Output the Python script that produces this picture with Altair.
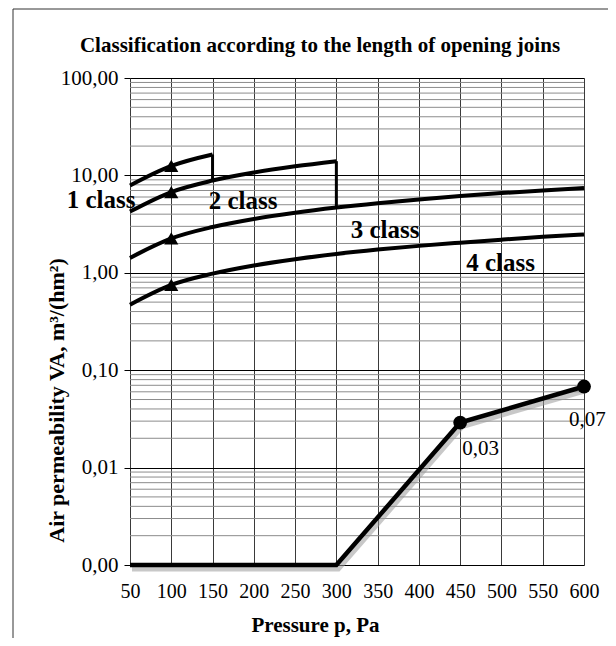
import altair as alt
import pandas as pd

# ---- data ----
p_c1 = [50, 100, 150]
v_c1 = [7.87, 12.5, 16.4]
p_c2 = [50, 100, 150, 200, 250, 300]
v_c2 = [4.25, 6.75, 8.85, 10.7, 12.4, 14.0]
p_c34 = [50, 100, 150, 200, 250, 300, 350, 400, 450, 500, 550, 600]
v_c3 = [1.42, 2.25, 2.95, 3.57, 4.14, 4.68, 5.19, 5.67, 6.13, 6.58, 7.01, 7.43]
v_c4 = [0.47, 0.75, 0.98, 1.19, 1.38, 1.56, 1.73, 1.89, 2.04, 2.19, 2.34, 2.48]

tri_p = [100, 100, 100, 100]
tri_v = [12.5, 6.75, 2.25, 0.75]

step_p = [150, 300]
step_lo = [8.85, 4.68]
step_hi = [16.4, 14.0]

meas_p = [50, 100, 150, 200, 250, 300, 450, 600]
meas_v = [0.001, 0.001, 0.001, 0.001, 0.001, 0.001, 0.029, 0.068]
pt_p = [450, 600]
pt_v = [0.029, 0.068]
pt_lbl = ["0,03", "0,07"]

cls_text = ["1 class", "2 class", "3 class", "4 class"]
cls_p = [15, 187, 359, 499]
cls_v = [5.56, 5.43, 2.75, 1.26]

x_ticks = [50, 100, 150, 200, 250, 300, 350, 400, 450, 500, 550, 600]
y_ticks = [0.001, 0.01, 0.1, 1, 10, 100]
minor_grid = [m * d for d in [0.001, 0.01, 0.1, 1, 10] for m in range(2, 10)]

TITLE = "Classification according to the length of opening joins"
FONT = "Liberation Serif"

rows = []
for name, ps, vs in [("c1", p_c1, v_c1), ("c2", p_c2, v_c2), ("c3", p_c34, v_c3), ("c4", p_c34, v_c4)]:
    for p, v in zip(ps, vs):
        rows.append({"series": name, "p": p, "v": v})
df_cls = pd.DataFrame(rows)
df_tri = pd.DataFrame({"p": tri_p, "v": tri_v})
df_step = pd.DataFrame({"p": step_p, "lo": step_lo, "hi": step_hi})
df_meas = pd.DataFrame({"p": meas_p, "v": meas_v})
df_pt = pd.DataFrame({"p": pt_p, "v": pt_v, "lbl": pt_lbl})
df_cls_lbl = pd.DataFrame({"t": cls_text, "p": cls_p, "v": cls_v})
df_minor = pd.DataFrame({"g": minor_grid})
df_one = pd.DataFrame({"t": [TITLE]})

xs = alt.Scale(domain=[50, 600], nice=False, zero=False)
ys = alt.Scale(type="log", domain=[0.001, 100], nice=False)

X = alt.X("p:Q", scale=xs, axis=alt.Axis(
    values=x_ticks, grid=True, gridColor="#3a3a3a", gridWidth=1, ticks=False,
    labelPadding=16, labelFontSize=20, labelFont=FONT, labelColor="black",
    labelFlush=False, labelOverlap=False, domain=False,
    title="Pressure p, Pa", titleFont=FONT, titleFontSize=21, titleFontWeight="bold",
    titleColor="black", titleX=185, titleY=60, titleBaseline="middle"))
Y = alt.Y("v:Q", scale=ys, axis=alt.Axis(
    values=y_ticks, grid=True, gridColor="black", gridWidth=1,
    ticks=True, tickSize=6, tickColor="black", tickWidth=1,
    labelExpr="replace(format(datum.value, '.2f'), '.', ',')",
    labelPadding=6, labelFontSize=21, labelFont=FONT, labelColor="black",
    labelOverlap=False, labelFlush=False, domain=False,
    title="Air permeability VA, m³/(hm²)", titleFont=FONT, titleFontSize=22,
    titleFontWeight="bold", titleColor="black", titleX=-74, titleY=322,
    titleBaseline="middle"))

minor = alt.Chart(df_minor).mark_rule(color="#8c8c8c", strokeWidth=1).encode(
    y=alt.Y("g:Q", scale=ys))

base_axes = alt.Chart(df_cls).mark_line(opacity=0).encode(x=X, y=Y)

lines = alt.Chart(df_cls).mark_line(color="black", strokeWidth=4, interpolate="monotone").encode(
    x=alt.X("p:Q", scale=xs), y=alt.Y("v:Q", scale=ys), detail="series:N")

steps = alt.Chart(df_step).mark_rule(color="black", strokeWidth=3).encode(
    x=alt.X("p:Q", scale=xs), y=alt.Y("lo:Q", scale=ys), y2="hi:Q")

tris = alt.Chart(df_tri).mark_point(shape="triangle-up", filled=True, color="black",
                                    size=200, opacity=1).encode(
    x=alt.X("p:Q", scale=xs), y=alt.Y("v:Q", scale=ys))

meas_shadow = alt.Chart(df_meas).mark_line(color="#9a9a9a", strokeWidth=5, opacity=0.55,
                                           xOffset=2, yOffset=4).encode(
    x=alt.X("p:Q", scale=xs), y=alt.Y("v:Q", scale=ys))
meas = alt.Chart(df_meas).mark_line(color="black", strokeWidth=4.5).encode(
    x=alt.X("p:Q", scale=xs), y=alt.Y("v:Q", scale=ys))
pts = alt.Chart(df_pt).mark_circle(color="black", size=190, opacity=1).encode(
    x=alt.X("p:Q", scale=xs), y=alt.Y("v:Q", scale=ys))
pt_lbl_lo = alt.Chart(df_pt[df_pt.lbl == "0,03"]).mark_text(
    font=FONT, fontSize=21, color="black", align="left", baseline="middle", dx=2, dy=26).encode(
    x=alt.X("p:Q", scale=xs), y=alt.Y("v:Q", scale=ys), text="lbl:N")
pt_lbl_hi = alt.Chart(df_pt[df_pt.lbl == "0,07"]).mark_text(
    font=FONT, fontSize=21, color="black", align="left", baseline="middle", dx=-15, dy=33).encode(
    x=alt.X("p:Q", scale=xs), y=alt.Y("v:Q", scale=ys), text="lbl:N")

cls_lbl = alt.Chart(df_cls_lbl).mark_text(
    font=FONT, fontSize=25, fontWeight="bold", color="black", align="center",
    baseline="middle").encode(
    x=alt.X("p:Q", scale=xs), y=alt.Y("v:Q", scale=ys), text="t:N")

title_txt = alt.Chart(df_one).mark_text(
    font=FONT, fontSize=21, fontWeight="bold", color="black", align="center",
    baseline="middle").encode(x=alt.value(190), y=alt.value(-32), text="t:N")

# outer chart-area frame lines
frame_left = alt.Chart(df_one).mark_rule(color="#333333", strokeWidth=1).encode(
    x=alt.value(-117), y=alt.value(-69), y2=alt.value(570))
frame_top = alt.Chart(df_one).mark_rule(color="#333333", strokeWidth=1).encode(
    x=alt.value(-117), x2=alt.value(480), y=alt.value(-69))
frame_outer = alt.Chart(df_one).mark_rule(color="#9a9a9a", strokeWidth=2).encode(
    x=alt.value(-127), y=alt.value(-80), y2=alt.value(570))

chart = alt.layer(
    minor, base_axes, lines, steps, tris, meas_shadow, meas, pts,
    pt_lbl_lo, pt_lbl_hi, cls_lbl, title_txt, frame_left, frame_top, frame_outer
).properties(
    width=454, height=487,
    autosize=alt.AutoSizeParams(type="none"),
    padding={"left": 122, "top": 70, "right": 24, "bottom": 73},
).configure_view(stroke="black", strokeWidth=2.5).configure(background="white")

chart.save("out.html", embed_options={"renderer": "svg", "actions": False})
